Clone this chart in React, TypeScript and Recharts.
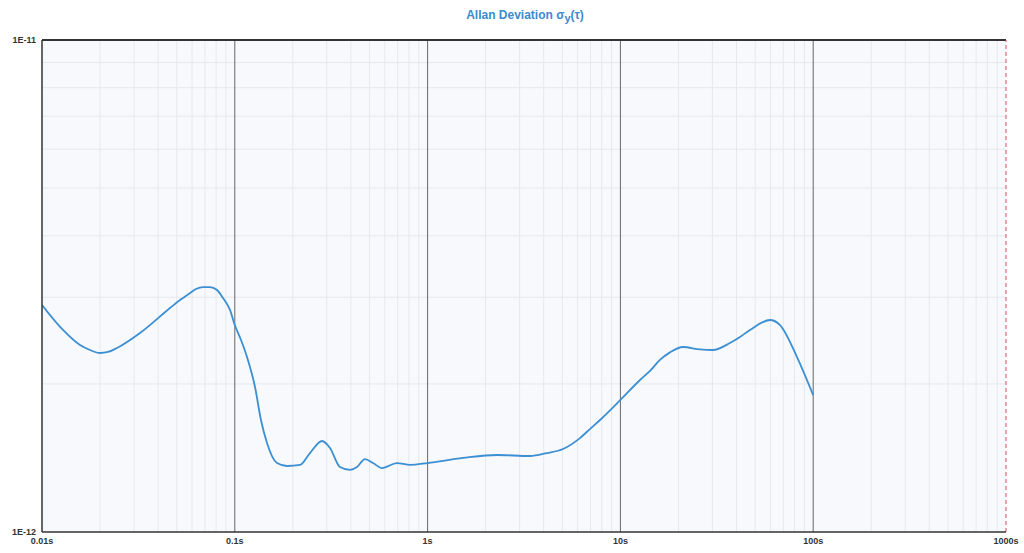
import {
  LineChart,
  Line,
  XAxis,
  YAxis,
  ReferenceLine,
  ReferenceArea,
} from "recharts";

// averaging time tau (s)
const tau = [
  0.01, 0.01285, 0.01574, 0.01774, 0.02, 0.02199, 0.02449, 0.03224, 0.04613,
  0.05198, 0.05856, 0.06291, 0.06839, 0.07435, 0.08085, 0.0869, 0.09441, 0.1,
  0.1077, 0.1157, 0.1273, 0.1367, 0.1469, 0.1655, 0.1866, 0.2179, 0.2455,
  0.2834, 0.3117, 0.3513, 0.3959, 0.4303, 0.4734, 0.5209, 0.58, 0.6938, 0.8102,
  1.0, 1.526, 2.291, 3.397, 4.16, 5.04, 6.17, 6.95, 7.84, 10.0, 12.64, 14.24,
  16.03, 18.08, 21.12, 25.88, 30.2, 37.0, 41.7, 47.0, 59.7, 67.3, 82.4, 100,
];

// Allan deviation
const adev = [
  2.893e-12, 2.574e-12, 2.399e-12, 2.344e-12, 2.311e-12, 2.322e-12, 2.366e-12,
  2.538e-12, 2.853e-12, 2.961e-12, 3.06e-12, 3.118e-12, 3.147e-12, 3.147e-12,
  3.103e-12, 2.989e-12, 2.827e-12, 2.634e-12, 2.456e-12, 2.268e-12, 1.971e-12,
  1.689e-12, 1.517e-12, 1.381e-12, 1.362e-12, 1.369e-12, 1.447e-12, 1.531e-12,
  1.482e-12, 1.355e-12, 1.337e-12, 1.355e-12, 1.407e-12, 1.381e-12, 1.349e-12,
  1.381e-12, 1.369e-12, 1.381e-12, 1.414e-12, 1.434e-12, 1.427e-12, 1.447e-12,
  1.475e-12, 1.552e-12, 1.619e-12, 1.689e-12, 1.855e-12, 2.037e-12, 2.125e-12,
  2.237e-12, 2.318e-12, 2.377e-12, 2.35e-12, 2.344e-12, 2.422e-12, 2.491e-12,
  2.574e-12, 2.697e-12, 2.634e-12, 2.268e-12, 1.898e-12,
];

const xTicks = [0.01, 0.1, 1, 10, 100, 1000];
const yTicks = [1e-12, 1e-11];
const minorSteps = [2, 3, 4, 5, 6, 7, 8, 9];

const data = tau.map((t, i) => ({ tau: t, adev: adev[i] }));

const minorX: number[] = [];
xTicks.slice(0, -1).forEach((d) => minorSteps.forEach((m) => minorX.push(d * m)));
const minorY = minorSteps.map((m) => m * 1e-12);

const FONT = "'Liberation Sans', Arial, sans-serif";
const tickStyle = { fontSize: 9, fontWeight: 700, fill: "#333", fontFamily: FONT };

export default function App() {
  return (
    <div style={{ position: "absolute", left: 0, top: 0, width: 1024, height: 553 }}>
      <div
        style={{
          position: "absolute",
          top: 8,
          left: 0,
          width: 1050,
          textAlign: "center",
          color: "#3b8ad0",
          fontFamily: FONT,
          fontWeight: 700,
          fontSize: 12,
        }}
      >
        Allan Deviation σ<sub style={{ fontSize: 11 }}>y</sub>(τ)
      </div>
      <LineChart
        width={1024}
        height={553}
        data={data}
        margin={{ top: 40, right: 18, left: 6, bottom: 0 }}
      >
        <XAxis
          dataKey="tau"
          type="number"
          scale="log"
          domain={[0.01, 1000]}
          allowDataOverflow
          ticks={xTicks}
          tickFormatter={(v: number) => `${v}s`}
          tick={tickStyle}
          tickLine={false}
          tickSize={4}
          tickMargin={2}
          height={21}
          axisLine={{ stroke: "#333", strokeWidth: 1.5 }}
        />
        <YAxis
          type="number"
          scale="log"
          domain={[1e-12, 1e-11]}
          allowDataOverflow
          ticks={yTicks}
          tickFormatter={(v: number) => (v > 5e-12 ? "1E-11" : "1E-12")}
          tick={tickStyle}
          tickLine={false}
          tickSize={4}
          tickMargin={2}
          width={36}
          axisLine={{ stroke: "#333", strokeWidth: 1.5 }}
        />
        <ReferenceArea
          x1={0.01}
          x2={1000}
          y1={1e-12}
          y2={1e-11}
          fill="#f7f9fc"
          fillOpacity={1}
          stroke="none"
        />
        {minorY.map((v) => (
          <ReferenceLine key={`h${v}`} y={v} stroke="#e5e9ef" strokeWidth={1} />
        ))}
        {minorX.map((v) => (
          <ReferenceLine key={`v${v}`} x={v} stroke="#e5e9ef" strokeWidth={1} />
        ))}
        {xTicks.slice(1, -1).map((v) => (
          <ReferenceLine key={`d${v}`} x={v} stroke="#666" strokeWidth={1} />
        ))}
        <ReferenceLine y={1e-11} stroke="#333" strokeWidth={2} />
        <ReferenceLine x={1000} stroke="#c9505a" strokeWidth={1} strokeDasharray="4 3" />
        <Line
          dataKey="adev"
          type="monotone"
          stroke="#3c8fd2"
          strokeWidth={1.8}
          dot={false}
          isAnimationActive={false}
        />
      </LineChart>
    </div>
  );
}
